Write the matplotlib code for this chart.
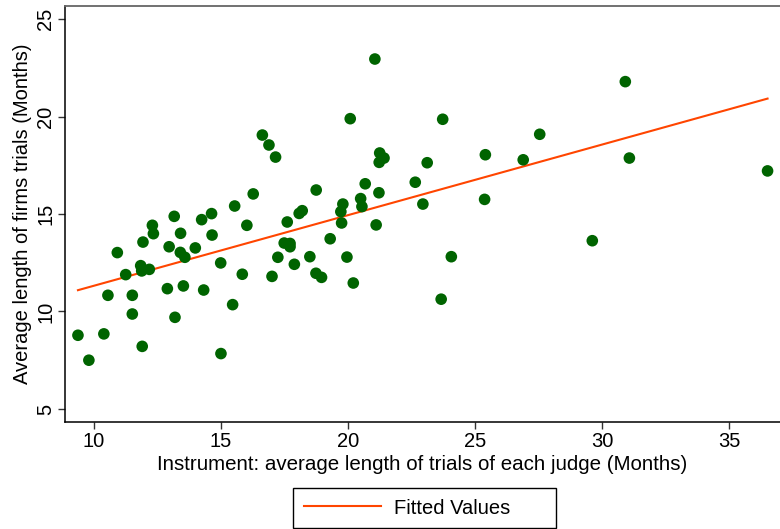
import matplotlib.pyplot as plt
import matplotlib.patches as mpatches
import numpy as np

plt.rcParams['font.family'] = ['Liberation Sans', 'DejaVu Sans']

# average length of trials per judge (instrument) and firms' trial length, months
judge_len = [9.37, 9.80, 10.39, 11.90, 15.00, 11.51, 13.19, 10.55, 11.51, 12.89,
             13.52, 14.32, 15.46, 17.01, 15.84, 17.89, 17.24, 14.99, 11.25, 11.84,
             11.88, 12.18, 10.92, 11.93, 12.34, 12.30, 12.96, 13.40, 13.58, 13.16,
             13.41, 13.99, 14.24, 14.63, 14.65, 15.54, 16.27, 16.02, 17.61, 17.49,
             17.72, 17.72, 18.08, 18.20, 18.50, 16.63, 16.89, 17.15, 21.06, 20.09,
             23.73, 27.55, 21.25, 21.42, 21.23, 23.12, 25.41, 26.90, 18.75, 20.68,
             22.65, 20.50, 21.22, 25.38, 19.80, 19.72, 20.55, 22.95, 19.75, 21.11,
             19.30, 19.96, 24.07, 18.74, 18.96, 20.21, 23.67, 30.92, 31.08, 36.52,
             29.62]
firm_len = [8.78, 7.50, 8.85, 8.21, 7.84, 9.87, 9.70, 10.83, 10.83, 11.17,
            11.31, 11.10, 10.35, 11.80, 11.91, 12.42, 12.78, 12.49, 11.89, 12.35,
            12.08, 12.16, 13.02, 13.56, 13.99, 14.42, 13.32, 13.03, 12.78, 14.88,
            14.01, 13.26, 14.71, 15.02, 13.92, 15.41, 16.03, 14.42, 14.59, 13.51,
            13.49, 13.32, 15.03, 15.17, 12.81, 19.05, 18.54, 17.92, 22.95, 19.89,
            19.86, 19.09, 18.13, 17.87, 17.65, 17.63, 18.04, 17.78, 16.23, 16.55,
            16.63, 15.79, 16.09, 15.75, 15.51, 15.12, 15.38, 15.51, 14.54, 14.44,
            13.73, 12.79, 12.81, 11.96, 11.75, 11.46, 10.63, 21.79, 17.87, 17.21,
            13.63]

# fitted line: intercept and slope
fit_a = 7.70
fit_b = 0.362

xticks = [10, 15, 20, 25, 30, 35]
yticks = [5, 10, 15, 20, 25]

fig = plt.figure(figsize=(7.8, 5.29), dpi=100)
ax = fig.add_axes([65/780, 1-422/529, 1-65/780, (422-6)/529])

ax.scatter(judge_len, firm_len, s=70, color='#006400', edgecolors='none', zorder=3)
xf = np.array([min(judge_len), max(judge_len)])
line, = ax.plot(xf, fit_a + fit_b*xf, color='#ff4500', lw=1.5, zorder=2)

ax.set_xlim(8.86, 37.01)
ax.set_ylim(4.33, 25.67)
ax.set_xticks(xticks)
ax.set_yticks(yticks)
ax.tick_params(labelsize=14.5, length=5, width=1, color='#333333', pad=2)
for lab in ax.get_yticklabels():
    lab.set_rotation(90)
    lab.set_va('center')

ax.spines['right'].set_visible(False)
ax.spines['top'].set_color('#666666')
ax.spines['top'].set_linewidth(1.3)
ax.spines['left'].set_linewidth(1.1)
ax.spines['bottom'].set_linewidth(1.1)

ax.set_xlabel('Instrument: average length of trials of each judge (Months)', fontsize=14.8, labelpad=3)
ax.set_ylabel('Average length of firms trials (Months)', fontsize=14.5, labelpad=3)

# legend box below the plot
box = mpatches.Rectangle((293/780, 1-528/529), (556-293)/780, 40/529, transform=fig.transFigure,
                         fill=False, edgecolor='black', lw=1)
fig.patches.append(box)
fig.legend([line], ['Fitted Values'], loc='center left', bbox_to_anchor=(286/780, 1-508/529),
           frameon=False, fontsize=14.5, handlelength=3.8, handletextpad=0.65)

plt.savefig('out.png', dpi=100)
